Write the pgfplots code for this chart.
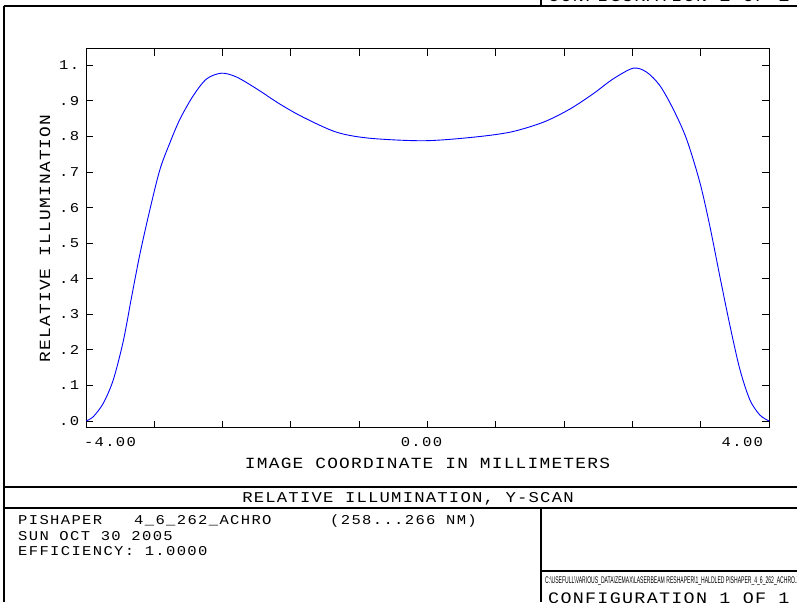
\documentclass[border=0pt]{standalone}
\usepackage{pgfplots}
\pgfplotsset{compat=1.18}
\usepackage{fontspec}
\setmainfont{Liberation Mono}
\newfontfamily\zf[FakeStretch=1.15]{Liberation Mono}
\newfontfamily\zpath{Liberation Sans}
\newcommand\zsz[2]{\zf\fontsize{#1}{#1}\selectfont\addfontfeature{LetterSpace=#2}}
\begin{document}
\begin{tikzpicture}
\useasboundingbox (0pt,0pt) rectangle (797pt,602pt);
\begin{scope}[x=1pt,y=1pt]
% frame (y measured upward: Y = 602 - y_px)
\begin{scope}[line width=1.1pt]
\draw (4,596) -- (797,596);
\draw (541,602) -- (541,596);
\draw (4,596) -- (4,0);
\draw (4,115) -- (797,115);
\draw (4,94) -- (797,94);
\draw (541,94) -- (541,0);
\draw (541,31) -- (797,31);
\end{scope}
\node[anchor=base west, inner sep=0pt, font=\zsz{16}{8}] at (548,600) {CONFIGURATION 1 OF 1};
\node[anchor=north west, inner sep=0pt, font=\zsz{16}{8}] at (548,9) {CONFIGURATION 1 OF 1};
\node[anchor=west, inner sep=0pt] at (545,21) {\resizebox{262pt}{7pt}{\zpath C:\textbackslash USEFULL\textbackslash VARIOUS\_DATA\textbackslash ZEMAX\textbackslash LASERBEAM RESHAPER\textbackslash 1\_HALDLED PISHAPER\_4\_6\_262\_ACHRO.ZMX}};
\node[anchor=base, inner sep=0pt, font=\zsz{15}{8}] at (408,99) {RELATIVE ILLUMINATION, Y-SCAN};
\node[anchor=base west, inner sep=0pt, font=\zsz{13.5}{10}] at (18,77) {PISHAPER};
\node[anchor=base west, inner sep=0pt, font=\zsz{13.5}{10}] at (134,77) {4\_6\_262\_ACHRO};
\node[anchor=base west, inner sep=0pt, font=\zsz{13.5}{10}] at (330,77) {(258...266 NM)};
\node[anchor=base west, inner sep=0pt, font=\zsz{13.5}{10}] at (18,62) {SUN OCT 30 2005};
\node[anchor=base west, inner sep=0pt, font=\zsz{13.5}{10}] at (18,47) {EFFICIENCY: 1.0000};
\end{scope}
\begin{axis}[
  at={(86pt,174pt)}, anchor=south west,
  width=683pt, height=379pt, scale only axis,
  xmin=-4, xmax=4, ymin=-0.0197, ymax=1.046,
  xtick={-4,-3.2,-2.4,-1.6,-0.8,0,0.8,1.6,2.4,3.2,4},
  xticklabels={{\makebox[0pt][l]{\hspace*{-2pt}-4.00}},,,,,{\makebox[0pt]{0.00\hspace*{12pt}}},,,,,{\makebox[0pt][r]{4.00\hspace*{6pt}}}},
  ytick={0,0.1,0.2,0.3,0.4,0.5,0.6,0.7,0.8,0.9,1},
  yticklabels={.0,.1,.2,.3,.4,.5,.6,.7,.8,.9,1.},
  tick align=inside, major tick length=7pt,
  axis line style={line width=1pt, black},
  tick style={black, line width=0.9pt},
  xticklabel style={anchor=north, inner sep=0pt, yshift=-9pt, font=\zsz{13.5}{10}},
  yticklabel style={anchor=west, inner sep=0pt, xshift=-27pt, font=\zsz{13.5}{10}},
  xlabel={IMAGE COORDINATE IN MILLIMETERS},
  xlabel style={at={(axis description cs:0.5,0)}, anchor=north, yshift=-30pt, inner sep=0pt, font=\zsz{15.5}{8}},
  ylabel={RELATIVE ILLUMINATION},
  ylabel style={at={(axis description cs:-0.0600,0.5)}, anchor=center, inner sep=0pt, font=\zsz{15.5}{8}},
  clip=false,
]
\addplot[blue, line width=0.9pt, smooth, tension=0.5] coordinates {
(-4.000,0.000) (-3.915,0.012) (-3.797,0.050) (-3.680,0.116) (-3.563,0.225)
(-3.465,0.350) (-3.368,0.470) (-3.251,0.595) (-3.133,0.708) (-3.016,0.783)
(-2.899,0.849) (-2.743,0.915) (-2.587,0.962) (-2.411,0.978) (-2.235,0.967)
(-2.001,0.934) (-1.728,0.891) (-1.455,0.854) (-1.065,0.812) (-0.674,0.795)
(-0.050,0.788) (0.496,0.797) (0.965,0.812) (1.355,0.840) (1.667,0.877)
(1.940,0.920) (2.175,0.962) (2.410,0.992) (2.566,0.981) (2.722,0.943)
(2.878,0.877) (3.034,0.793) (3.190,0.671) (3.307,0.548) (3.424,0.407)
(3.541,0.270) (3.658,0.146) (3.775,0.060) (3.892,0.017) (4.000,0.000)
};
\end{axis}
\end{tikzpicture}
\end{document}
